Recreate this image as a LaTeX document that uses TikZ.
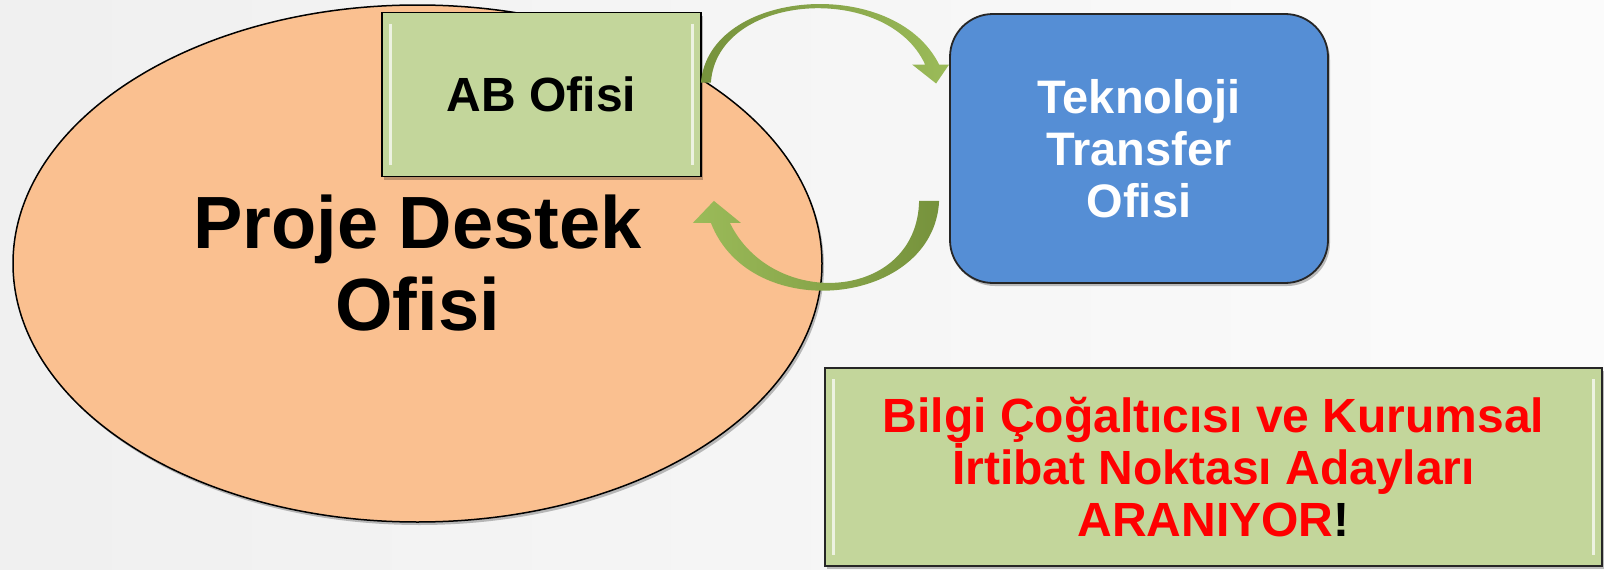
\documentclass[tikz,border=0pt]{standalone}
\usepackage{fontspec}
\setmainfont{Liberation Sans}
\usetikzlibrary{shapes.geometric,shadows,calc}

\definecolor{peach}{RGB}{250,192,144}
\definecolor{boxgreen}{RGB}{195,214,155}
\definecolor{boxblue}{RGB}{85,142,213}
\definecolor{arrowlight}{RGB}{155,187,89}
\definecolor{arrowdark}{RGB}{118,146,60}

\begin{document}
\begin{tikzpicture} [x=1pt, y=-1pt,
myshadow/.style={drop shadow={shadow xshift=2pt, shadow yshift=-3pt, opacity=.25, fill=black}},
pdonode/.style={ellipse, draw=black, line width=1.5pt, fill=peach, minimum width=809pt, minimum height=517pt, inner sep=0pt, align=center, font=\bfseries\fontsize{74}{82}\selectfont, myshadow},
abnode/.style={rectangle, draw=black, line width=1.8pt, fill=boxgreen, minimum width=319pt, minimum height=164pt, inner sep=0pt, font=\bfseries\fontsize{48}{56}\selectfont, myshadow},
ttonode/.style={rectangle, rounded corners=43pt, draw=black!85, line width=1.8pt, fill=boxblue, minimum width=378pt, minimum height=269pt, inner sep=0pt, align=center, text=white, font=\bfseries\fontsize{47}{52}\selectfont, myshadow},
ilannode/.style={rectangle, draw=black!85, line width=1.8pt, fill=boxgreen, minimum width=777pt, minimum height=198pt, inner sep=0pt, align=center, text=red, font=\bfseries\fontsize{48}{52}\selectfont, myshadow},
bevel/.style={white, opacity=.7, line width=3pt},
]
%Background
\useasboundingbox (0,0) rectangle (1604,570);
\shade[left color=gray!12, right color=gray!3] (0,0) rectangle (1604,570);

%Nodes
\node[pdonode]     (pdo)     at (417.5,263.5)    {Proje Destek\\Ofisi};
\node[abnode]      (ab)      at (541.5,94.5)     {AB Ofisi};
\node[ttonode]     (tto)     at (1139,148.5)     {Teknoloji\\Transfer\\Ofisi};
\node[ilannode]    (ilan)    at (1213.5,467)     {Bilgi Çoğaltıcısı ve Kurumsal\\İrtibat Noktası Adayları\\ARANIYOR\textcolor{black}{!}};

%Bevels
\draw[bevel] ($(ab.north west)+(9,12)$) -- ($(ab.south west)+(9,-12)$);
\draw[bevel] ($(ab.north east)+(-9,12)$) -- ($(ab.south east)+(-9,-12)$);
\draw[bevel] ($(ilan.north west)+(9,12)$) -- ($(ilan.south west)+(9,-12)$);
\draw[bevel] ($(ilan.north east)+(-9,12)$) -- ($(ilan.south east)+(-9,-12)$);

%Lines
\coordinate (s1) at ($(ab.north east)+(-1,71)$);
\coordinate (e1) at ($(tto.west)+(-13,-65)$);
\shade[left color=arrowdark, right color=arrowlight]
  (s1) .. controls +(8,-94) and +(-45,-90) .. ($(e1)+(3,-19)$)
  -- ($(e1)+(13,-19)$) -- (e1) -- ($(e1)+(-24,-19)$) -- ($(e1)+(-11,-19)$)
  .. controls +(-38,-83) and +(6,-90) .. ($(s1)+(10,0)$) -- cycle;

\coordinate (s2) at ($(tto.south west)+(-10,-83)$);
\coordinate (e2) at ($(ab.south east)+(12,23.5)$);
\shade[left color=arrowlight, right color=arrowdark]
  (s2) .. controls +(-5,105) and +(40,103) .. ($(e2)+(-3,22)$)
  -- ($(e2)+(-21,22)$) -- (e2) -- ($(e2)+(27,22)$) -- ($(e2)+(16,22)$)
  .. controls +(43,88) and +(-2,100) .. ($(s2)+(-20,0)$) -- cycle;

\end{tikzpicture}
\end{document}
